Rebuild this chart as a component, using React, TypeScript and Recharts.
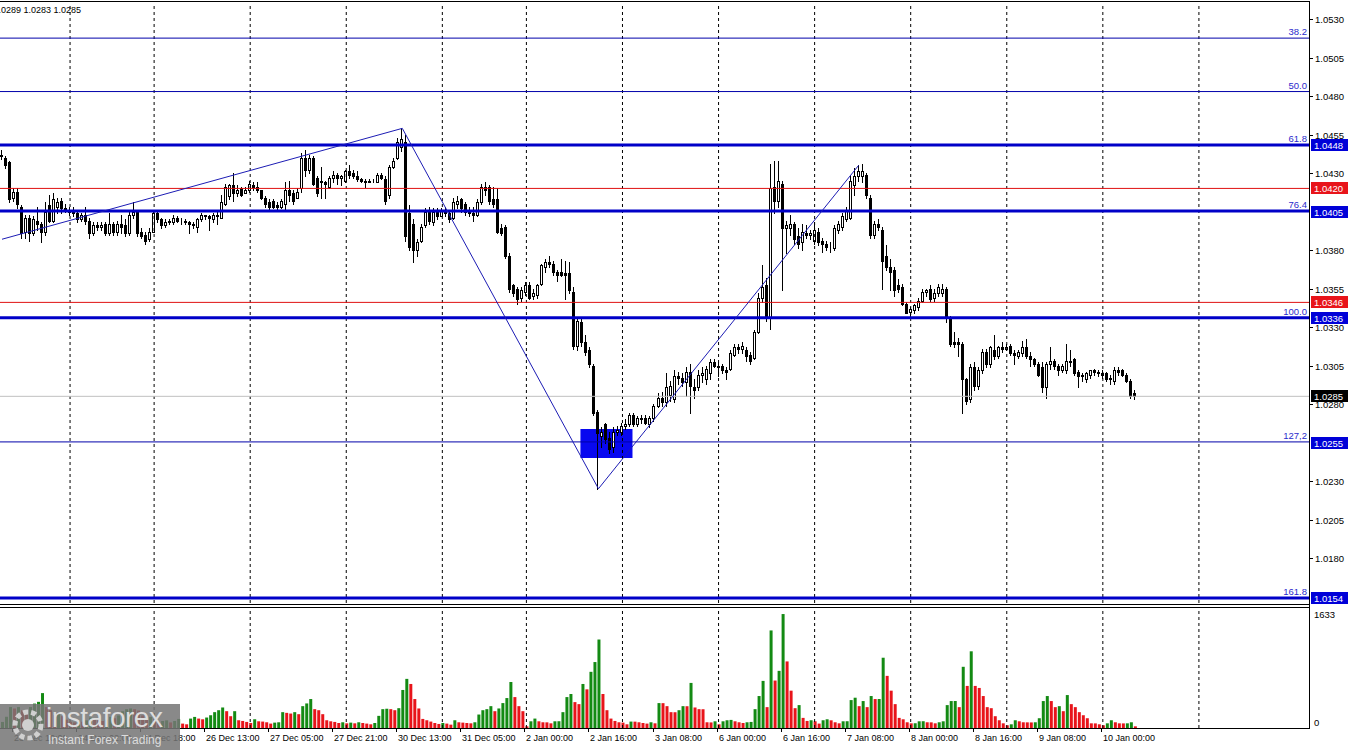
import {
  ComposedChart,
  Bar,
  Line,
  XAxis,
  YAxis,
  ReferenceLine,
  ReferenceArea,
  Cell,
} from "recharts";

// EUR/USD H1 candles, prices in pips above 1.0000: [open, high, low, close]
const candles: number[][] = [
  [442,445,439,441],[440,441,433,435],[437,438,411,413],[414,420,412,418],[418,420,407,410],
  [408,409,388,391],[392,403,388,401],[401,403,386,391],[391,402,390,400],[399,408,393,397],
  [397,398,385,392],[392,411,390,405],[409,416,398,399],[399,417,398,413],[408,414,404,411],
  [412,414,404,407],[407,410,405,406],[406,408,403,405],[405,408,402,404],[404,406,398,400],
  [400,404,399,403],[403,408,397,399],[399,401,388,391],[391,398,390,396],[396,398,393,395],
  [395,398,393,396],[397,398,390,391],[391,404,390,397],[397,398,390,392],[392,399,390,397],
  [397,403,391,395],[396,400,389,391],[391,405,390,403],[403,411,401,405],[405,406,389,391],
  [392,394,388,389],[390,392,384,386],[387,394,386,392],[392,405,392,404],[404,405,398,400],
  [400,401,394,396],[396,400,395,398],[398,400,397,399],[398,403,397,401],[401,402,398,399],
  [399,401,397,399],[399,400,397,398],[398,399,391,397],[397,398,394,396],[395,401,392,400],
  [400,404,399,403],[403,403,400,402],[402,403,393,401],[400,404,398,403],[403,406,397,402],
  [401,416,401,411],[410,423,409,421],[415,423,413,422],[422,430,412,417],[417,422,415,419],
  [420,421,415,416],[417,421,417,419],[419,425,418,423],[422,424,419,421],[421,424,418,419],
  [419,419,413,414],[414,415,408,410],[411,413,406,408],[412,413,407,408],[409,411,406,408],
  [408,413,407,412],[410,424,406,419],[419,425,412,416],[417,419,410,412],[414,420,414,418],
  [420,443,418,440],[440,445,428,432],[432,442,430,440],[440,441,422,423],[427,428,415,417],
  [425,434,414,424],[424,425,414,423],[421,428,420,427],[427,431,424,429],[429,430,423,427],
  [427,429,422,428],[425,432,424,431],[431,435,427,429],[430,432,427,428],[428,431,425,426],
  [426,427,424,425],[425,426,421,424],[424,426,424,425],[425,426,424,425],[424,430,424,429],
  [429,430,426,427],[426,428,410,412],[416,435,414,434],[434,440,433,438],[440,453,439,450],
  [447,459,444,452],[450,455,386,389],[404,409,380,382],[397,400,372,380],[380,387,376,385],
  [386,397,385,395],[396,407,395,405],[406,408,397,399],[398,407,396,405],[405,407,400,402],
  [402,407,402,406],[406,408,402,404],[404,405,398,400],[401,414,400,411],[410,415,407,412],
  [413,414,405,407],[410,411,403,405],[405,408,402,404],[404,408,399,403],[403,413,402,411],
  [411,423,410,421],[421,424,416,419],[421,422,410,412],[413,421,408,410],[413,420,391,392],
  [394,397,390,391],[395,396,375,376],[376,378,353,355],[357,358,350,352],[355,356,345,348],
  [349,356,347,354],[353,359,351,357],[357,359,348,349],[350,355,348,352],[351,358,349,357],
  [358,371,357,370],[369,374,366,372],[372,376,369,371],[371,373,364,366],[366,367,360,364],
  [366,374,363,364],[365,373,348,364],[365,372,352,354],[353,356,316,318],[318,336,315,334],
  [333,335,318,320],[320,325,312,314],[315,317,304,306],[305,306,273,274],[275,276,225,261],
  [259,265,252,262],[267,268,255,257],[258,262,248,251],[252,265,249,262],[262,266,260,263],
  [262,268,260,266],[266,270,264,267],[267,274,266,273],[273,274,266,267],[267,272,266,271],
  [271,273,268,270],[271,273,267,268],[267,272,265,271],[271,280,269,279],[279,287,278,284],
  [284,288,279,281],[281,300,279,291],[286,295,282,292],[283,302,281,298],[298,301,293,297],
  [297,300,292,294],[294,304,285,301],[301,306,274,292],[291,296,284,289],[291,302,289,299],
  [299,304,294,300],[296,305,293,303],[300,309,296,307],[307,309,304,305],[305,307,298,304],
  [305,306,300,302],[302,304,296,301],[303,315,302,313],[312,319,311,317],[317,319,313,316],
  [316,320,313,318],[315,317,308,311],[312,314,306,308],[310,328,309,327],[327,352,326,349],
  [349,370,346,356],[357,362,334,336],[336,436,329,420],[421,438,404,412],[412,438,408,425],
  [423,425,354,394],[394,399,378,396],[394,403,390,397],[397,398,384,387],[389,394,381,384],
  [385,397,380,392],[391,396,388,390],[390,393,387,391],[386,398,384,393],[392,394,383,385],
  [386,388,379,384],[384,386,380,382],[383,385,379,383],[381,396,380,394],[393,399,391,397],
  [395,404,393,402],[400,408,399,406],[401,428,400,425],[422,433,416,428],[428,435,425,431],
  [428,436,424,431],[429,430,414,416],[414,416,388,390],[390,399,388,397],[397,400,393,395],
  [393,395,355,373],[376,383,367,369],[369,374,354,366],[367,369,350,354],[357,361,353,355],
  [356,358,344,345],[345,346,339,339],[340,343,337,342],[341,345,339,344],[343,349,341,347],
  [347,355,346,353],[353,355,350,354],[355,357,347,348],[349,355,347,352],[352,358,350,356],
  [352,358,350,355],[355,356,333,337],[336,337,318,319],[320,327,317,319],[320,323,311,319],
  [319,320,274,296],[296,297,280,282],[283,306,281,304],[304,307,289,292],[292,304,290,302],
  [302,316,300,314],[314,316,304,306],[306,318,304,317],[315,325,309,311],[311,318,310,317],
  [317,320,314,316],[316,319,315,317],[318,319,312,313],[313,315,306,312],[311,315,310,314],
  [313,321,311,317],[317,322,310,311],[311,314,305,309],[309,310,305,306],[306,307,298,299],
  [304,307,288,291],[291,307,284,306],[306,317,303,308],[308,309,303,305],[305,306,299,302],
  [302,306,301,305],[302,319,300,308],[308,315,305,307],[309,310,299,300],[301,302,291,298],
  [298,300,295,299],[296,301,294,300],[299,302,297,302],[302,303,299,301],[301,302,298,300],
  [300,302,297,299],[300,301,295,296],[296,299,293,297],[295,304,293,302],[302,304,299,301],
  [302,303,298,299],[299,300,294,295],[295,296,284,285],[287,289,283,285],
];

// tick volumes, one per candle
const volumes: number[] = [
  87,160,300,280,300,255,255,300,350,375, 500,300,255,185,200,170,120,90,80,100,
  90,110,150,120,110,100,120,160,140,180, 240,270,280,270,250,180,150,160,120,90,
  100,110,80,100,130,63,53,135,159,135, 125,150,183,227,255,294,241,169,241,111,
  101,87,72,125,96,92,82,63,77,82, 227,217,207,227,198,313,352,415,270,255,
  198,111,96,87,72,82,67,77,67,82, 72,63,53,72,174,270,276,270,255,284,
  545,704,631,415,280,130,111,92,72,58, 72,63,48,111,82,77,72,67,82,193,
  255,270,313,241,280,357,429,660,443,313, 241,24,96,135,96,82,81,67,96,97,
  227,443,487,371,342,631,554,805,945,1268, 487,255,135,101,82,77,53,92,91,82,
  72,63,82,67,357,356,313,227,226,255, 313,312,646,294,270,269,82,80,96,53,
  96,111,116,96,82,72,82,87,270,458, 675,299,1398,680,819,1633,954,535,284,328,
  145,101,111,96,63,111,125,110,82,67, 96,97,400,434,313,386,299,458,415,416,
  1007,747,535,342,145,125,82,67,68,96, 97,82,81,67,82,96,328,386,387,299,
  877,603,1099,603,574,458,299,284,169,111, 67,39,53,111,96,82,81,80,82,140,
  386,458,386,299,313,241,472,342,299,227, 183,140,67,66,53,39,67,111,82,67,
  66,67,82,24,
];

const SLOTS = 327; // hourly slots across the plot, incl. the empty right margin
const dayStarts = [17, 38, 62, 86, 110, 131, 155, 179, 203, 227, 251, 275, 299];
const timeLabels = [
  { bar: 3, text: "23 Dec 10:00" },
  { bar: 19, text: "24 Dec 02:00" },
  { bar: 35, text: "24 Dec 18:00" },
  { bar: 51, text: "26 Dec 13:00" },
  { bar: 67, text: "27 Dec 05:00" },
  { bar: 83, text: "27 Dec 21:00" },
  { bar: 99, text: "30 Dec 13:00" },
  { bar: 115, text: "31 Dec 05:00" },
  { bar: 131, text: "2 Jan 00:00" },
  { bar: 147, text: "2 Jan 16:00" },
  { bar: 163, text: "3 Jan 08:00" },
  { bar: 179, text: "6 Jan 00:00" },
  { bar: 195, text: "6 Jan 16:00" },
  { bar: 211, text: "7 Jan 08:00" },
  { bar: 227, text: "8 Jan 00:00" },
  { bar: 243, text: "8 Jan 16:00" },
  { bar: 259, text: "9 Jan 08:00" },
  { bar: 275, text: "10 Jan 00:00" },
];
const priceTicks = [530, 505, 480, 455, 430, 380, 355, 330, 305, 280, 230, 205, 180];
const fibLevels = [
  { name: "38.2", value: 517.6, thick: false },
  { name: "50.0", value: 482.9, thick: false },
  { name: "61.8", value: 448.2, thick: true },
  { name: "76.4", value: 405.4, thick: true },
  { name: "100.0", value: 336, thick: true },
  { name: "127,2", value: 255.4, thick: false },
  { name: "161.8", value: 154.1, thick: true },
];
const redLevels = [420, 346];
const lastPrice = 285;
const markedPrices = [
  { value: 448, color: "#0000d8" },
  { value: 420, color: "#e8141a" },
  { value: 405, color: "#0000d8" },
  { value: 346, color: "#e8141a" },
  { value: 336, color: "#0000d8" },
  { value: 285, color: "#000000" },
  { value: 255, color: "#0000d8" },
  { value: 154, color: "#0000d8" },
];
const zigzag = [
  { bar: 0, value: 387 },
  { bar: 100, value: 459 },
  { bar: 149, value: 225 },
  { bar: 214, value: 435 },
];
const zone = { from: 145, to: 157, low: 244.9, high: 263.8 };

const rows = Array.from({ length: SLOTS }, (_, i) => {
  const c = candles[i];
  const z = zigzag.find((p) => p.bar === i);
  return {
    i,
    ohlc: c,
    range: c ? [c[2], c[1]] : undefined,
    vol: volumes[i],
    zig: z ? z.value : null,
  };
});

const volMax = Math.max(...volumes);
const fmt = (v: number) => (1 + v / 10000).toFixed(4);
const FONT = "'Liberation Sans', Arial, sans-serif";
const FS = 9.5;
const FS_TIME = 9;
const AXIS_X = 1309;

function Candle(props: any) {
  const { x, y, width, height, payload } = props;
  const c = payload && payload.ohlc;
  if (!c) return null;
  const [o, h, l, cl] = c;
  const top = Math.min(y, y + height);
  const hgt = Math.abs(height);
  const k = hgt / (h - l);
  const yOf = (p: number) => top + (h - p) * k;
  const x0 = Math.round(x + width / 2 - 2);
  const wx = x0 + 1.5;
  const up = cl >= o;
  const bTop = Math.round(yOf(Math.max(o, cl)));
  const bBot = Math.round(yOf(Math.min(o, cl)));
  return (
    <g>
      <line x1={wx} x2={wx} y1={Math.round(top)} y2={Math.round(top + hgt) + 1} stroke="#000" strokeWidth={1} />
      <rect
        x={x0 + 0.5}
        y={bTop + 0.5}
        width={2}
        height={Math.max(bBot - bTop, 0)}
        fill={up ? "#fff" : "#000"}
        stroke="#000"
        strokeWidth={1}
      />
    </g>
  );
}

function PriceTick(props: any) {
  const { payload } = props;
  const v = payload.value;
  const y = Math.round(props.y);
  const mark = markedPrices.find((m) => m.value === v);
  if (mark) {
    return (
      <g>
        <rect x={AXIS_X + 2} y={y - 6} width={37} height={12} fill={mark.color} />
        <text x={AXIS_X + 5} y={y + 4} fill="#fff" fontSize={FS} fontFamily={FONT}>
          {fmt(v)}
        </text>
      </g>
    );
  }
  return (
    <g>
      <line x1={AXIS_X} x2={AXIS_X + 4} y1={y + 0.5} y2={y + 0.5} stroke="#000" />
      <text x={AXIS_X + 6} y={y + 4} fill="#000" fontSize={FS} fontFamily={FONT}>
        {fmt(v)}
      </text>
    </g>
  );
}

function VolumeTick(props: any) {
  const { payload } = props;
  const y = Math.round(props.y);
  return (
    <text x={AXIS_X + 5} y={payload.value === 0 ? y - 2 : y + 4} fill="#000" fontSize={FS} fontFamily={FONT}>
      {payload.value}
    </text>
  );
}

function TimeTick(props: any) {
  const { x, y, payload } = props;
  const label = timeLabels.find((t) => t.bar === payload.value);
  const lx = Math.round(x) - 2 + 0.5;
  return (
    <g>
      <line x1={lx} x2={lx} y1={y} y2={y + 4} stroke="#000" />
      <text x={lx + 1.5} y={y + 13} fill="#000" fontSize={FS_TIME} fontFamily={FONT}>
        {label ? label.text : ""}
      </text>
    </g>
  );
}

const fibLabel = (text: string) => (p: any) => {
  const vb = p.viewBox || {};
  return (
    <text
      x={(vb.x || 0) + (vb.width || 0) - 2}
      y={(vb.y || 0) - 3}
      textAnchor="end"
      fill="#2a2acc"
      fontSize={FS}
      fontFamily={FONT}
    >
      {text}
    </text>
  );
};

const line = (style: React.CSSProperties) => (
  <div style={{ position: "absolute", background: "#000", ...style }} />
);

export default function App() {
  return (
    <div
      style={{
        position: "absolute",
        left: 0,
        top: 0,
        width: 1350,
        height: 750,
        background: "#fff",
        overflow: "hidden",
        fontFamily: FONT,
      }}
    >
      <div style={{ position: "absolute", left: 0, top: 0 }}>
        <ComposedChart
          width={1350}
          height={606}
          data={rows}
          margin={{ top: 3, right: 0, bottom: 3, left: 0 }}
          barCategoryGap={0}
        >
          <XAxis dataKey="i" type="category" hide />
          <YAxis
            orientation="right"
            type="number"
            width={41}
            domain={[150.8, 540.4]}
            allowDataOverflow
            ticks={[...priceTicks, ...markedPrices.map((m) => m.value)]}
            interval={0}
            tick={<PriceTick />}
            axisLine={false}
            tickLine={false}
          />
          {dayStarts.map((d) => (
            <ReferenceLine key={"d" + d} x={d} stroke="#000" strokeDasharray="3 3" />
          ))}
          <ReferenceArea
            x1={zone.from}
            x2={zone.to}
            y1={zone.low}
            y2={zone.high}
            fill="#0808f0"
            fillOpacity={1}
            stroke="none"
          />
          <ReferenceLine y={lastPrice} stroke="#c0c0c0" />
          {redLevels.map((v) => (
            <ReferenceLine key={"r" + v} y={v} stroke="#e01010" />
          ))}
          <Bar dataKey="range" shape={<Candle />} isAnimationActive={false} />
          {fibLevels.map((f) => (
            <ReferenceLine
              key={"f" + f.name}
              y={f.value}
              stroke={f.thick ? "#0000c8" : "#0000aa"}
              strokeWidth={f.thick ? 3 : 1}
              label={fibLabel(f.name)}
            />
          ))}
          <Line
            dataKey="zig"
            type="linear"
            connectNulls
            stroke="#1c1cb4"
            strokeWidth={1}
            dot={false}
            activeDot={false}
            isAnimationActive={false}
          />
        </ComposedChart>
      </div>

      <div style={{ position: "absolute", left: 0, top: 607 }}>
        <ComposedChart
          width={1350}
          height={143}
          data={rows}
          margin={{ top: 1, right: 0, bottom: 0, left: 0 }}
          barCategoryGap={0}
        >
          <XAxis
            dataKey="i"
            type="category"
            height={22}
            ticks={timeLabels.map((t) => t.bar)}
            interval={0}
            tick={<TimeTick />}
            tickSize={0}
            tickMargin={0}
            axisLine={false}
            tickLine={false}
          />
          <YAxis
            orientation="right"
            type="number"
            width={41}
            domain={[0, volMax * 1.053]}
            allowDataOverflow
            ticks={[0, volMax]}
            interval={0}
            tick={<VolumeTick />}
            axisLine={false}
            tickLine={false}
          />
          {dayStarts.map((d) => (
            <ReferenceLine key={"v" + d} x={d} stroke="#000" strokeDasharray="3 3" />
          ))}
          <Bar dataKey="vol" barSize={3} isAnimationActive={false}>
            {rows.map((r) => (
              <Cell
                key={r.i}
                fill={r.i === 0 || r.vol > (volumes[r.i - 1] ?? 0) ? "#138a13" : "#e8141a"}
              />
            ))}
          </Bar>
        </ComposedChart>
      </div>

      {line({ left: 0, top: 1, width: AXIS_X + 1, height: 1 })}
      {line({ left: 0, top: 604, width: AXIS_X + 1, height: 1 })}
      {line({ left: 0, top: 607, width: AXIS_X + 1, height: 1 })}
      {line({ left: 0, top: 728, width: AXIS_X + 1, height: 1 })}
      {line({ left: AXIS_X, top: 1, width: 1, height: 728 })}

      <div
        style={{
          position: "absolute",
          right: 1350 - 81,
          top: 5,
          fontSize: FS_TIME,
          whiteSpace: "nowrap",
          color: "#000",
        }}
      >
        EURUSD,H1 1.0289 1.0289 1.0283 1.0285
      </div>

      <div
        style={{
          position: "absolute",
          left: 0,
          top: 704,
          width: 180,
          height: 46,
          background: "rgba(118,118,118,0.86)",
        }}
      >
        <svg width={44} height={40} style={{ position: "absolute", left: 6, top: 2 }}>
          <circle cx={22} cy={19} r={13} fill="none" stroke="#d0d0d0" strokeWidth={5} strokeDasharray="5 3" />
          <circle cx={22} cy={19} r={6} fill="#d0d0d0" />
        </svg>
        <div
          style={{
            position: "absolute",
            left: 46,
            top: -2,
            fontSize: 28,
            color: "#dcdcdc",
            fontFamily: "'Liberation Sans', Arial, sans-serif",
            letterSpacing: -0.5,
          }}
        >
          instaforex
        </div>
        <div
          style={{
            position: "absolute",
            left: 48,
            top: 29,
            fontSize: 12,
            color: "#dcdcdc",
            fontFamily: "'Liberation Sans', Arial, sans-serif",
          }}
        >
          Instant Forex Trading
        </div>
      </div>
    </div>
  );
}
